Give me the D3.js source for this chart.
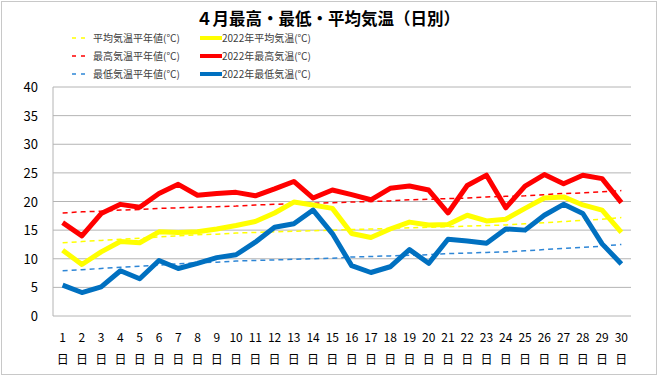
<!DOCTYPE html>
<html>
<head>
<meta charset="utf-8">
<script src="https://cdn.jsdelivr.net/npm/d3@7"></script>
<style>
  body { margin: 0; background: #fff; }
  text { font-family: "Noto Sans CJK JP", "Noto Sans", sans-serif; }
</style>
</head>
<body>
<div id="chart"></div>
<script>
// Data
const days = d3.range(1, 31)
const yTicks = [0, 5, 10, 15, 20, 25, 30, 35, 40]

const maxNormal = [18.0, 18.2, 18.3, 18.5, 18.6, 18.8, 18.9, 19.0, 19.1, 19.2, 19.4, 19.5, 19.6, 19.7, 19.8,
  19.9, 20.0, 20.1, 20.3, 20.4, 20.5, 20.6, 20.8, 20.9, 21.0, 21.2, 21.4, 21.5, 21.7, 21.9]
const avgNormal = [12.8, 13.0, 13.2, 13.4, 13.6, 13.8, 14.0, 14.2, 14.3, 14.5, 14.6, 14.7, 14.8, 14.9, 15.0,
  15.1, 15.2, 15.3, 15.4, 15.5, 15.6, 15.7, 15.8, 15.9, 16.1, 16.3, 16.5, 16.7, 16.9, 17.2]
const minNormal = [7.9, 8.1, 8.3, 8.5, 8.7, 8.9, 9.1, 9.3, 9.4, 9.6, 9.7, 9.8, 9.9, 10.0, 10.1,
  10.3, 10.4, 10.5, 10.6, 10.7, 10.9, 11.0, 11.1, 11.2, 11.4, 11.6, 11.8, 12.0, 12.2, 12.5]

const max2022 = [16.3, 14.0, 17.9, 19.5, 19.0, 21.4, 23.0, 21.1, 21.4, 21.6, 21.0, 22.2, 23.5, 20.6, 22.0,
  21.2, 20.3, 22.3, 22.7, 22.0, 18.0, 22.8, 24.6, 18.9, 22.7, 24.7, 23.1, 24.6, 24.0, 19.8]
const avg2022 = [11.5, 9.0, 11.2, 13.0, 12.8, 14.7, 14.6, 14.7, 15.2, 15.8, 16.5, 18.0, 19.9, 19.4, 18.8,
  14.4, 13.7, 15.2, 16.4, 15.9, 16.0, 17.6, 16.6, 16.9, 18.8, 20.6, 20.8, 19.4, 18.5, 14.6]
const min2022 = [5.4, 4.1, 5.1, 7.9, 6.5, 9.7, 8.3, 9.2, 10.2, 10.7, 12.9, 15.5, 16.1, 18.5, 14.4,
  8.8, 7.6, 8.6, 11.6, 9.2, 13.4, 13.1, 12.7, 15.2, 15.0, 17.6, 19.5, 17.9, 12.6, 9.1]

const series = [
  { name: '平均気温平年値(℃)', values: avgNormal, color: '#ffff00', width: 1.5, dash: '5,4' },
  { name: '最高気温平年値(℃)', values: maxNormal, color: '#ff0000', width: 1.5, dash: '5,4' },
  { name: '最低気温平年値(℃)', values: minNormal, color: '#2e86d6', width: 1.5, dash: '5,4' },
  { name: '2022年平均気温(℃)', values: avg2022, color: '#ffff00', width: 5, dash: null },
  { name: '2022年最高気温(℃)', values: max2022, color: '#ff0000', width: 5, dash: null },
  { name: '2022年最低気温(℃)', values: min2022, color: '#0070c0', width: 5, dash: null },
]

// Dimensions
const width = 660
const height = 376
const plot = { left: 53, right: 631, top: 87, bottom: 316 }

const svg = d3.select('#chart')
  .append('svg')
  .attr('width', width)
  .attr('height', height)

// Outer frame
svg.append('rect')
  .attr('x', 1.5).attr('y', 1.5)
  .attr('width', width - 5).attr('height', height - 3)
  .attr('fill', '#fff')
  .attr('stroke', '#c8c8c8')

// Scales
const x = d3.scaleBand()
  .domain(days)
  .range([plot.left, plot.right])

const y = d3.scaleLinear()
  .domain([0, 40])
  .range([plot.bottom, plot.top])

// Grid
svg.append('g')
  .selectAll('line')
  .data(yTicks)
  .join('line')
  .attr('x1', plot.left)
  .attr('x2', plot.right)
  .attr('y1', d => y(d))
  .attr('y2', d => y(d))
  .attr('stroke', '#b4b4b4')
  .attr('stroke-width', 1)

svg.append('line')
  .attr('x1', plot.left).attr('x2', plot.left)
  .attr('y1', plot.top).attr('y2', plot.bottom)
  .attr('stroke', '#b4b4b4')

// Y labels
svg.append('g')
  .selectAll('text')
  .data(yTicks)
  .join('text')
  .attr('x', 38)
  .attr('y', d => y(d) + 5)
  .attr('text-anchor', 'end')
  .attr('font-size', 13)
  .attr('fill', '#000')
  .text(d => d)

// X labels
const xLabels = svg.append('g')
  .selectAll('g')
  .data(days)
  .join('g')
  .attr('transform', d => `translate(${x(d) + x.bandwidth() / 2}, 0)`)

xLabels.append('text')
  .attr('y', 342)
  .attr('text-anchor', 'middle')
  .attr('font-size', 12)
  .text(d => d)

xLabels.append('text')
  .attr('y', 364)
  .attr('text-anchor', 'middle')
  .attr('font-size', 12)
  .text('日')

// Lines
const line = d3.line()
  .x((d, i) => x(days[i]) + x.bandwidth() / 2)
  .y(d => y(d))

svg.append('g')
  .selectAll('path')
  .data(series)
  .join('path')
  .attr('d', d => line(d.values))
  .attr('fill', 'none')
  .attr('stroke', d => d.color)
  .attr('stroke-width', d => d.width)
  .attr('stroke-dasharray', d => d.dash)
  .attr('stroke-linejoin', 'round')

// Title
svg.append('text')
  .attr('x', 328)
  .attr('y', 24.5)
  .attr('text-anchor', 'middle')
  .attr('font-size', 16.5)
  .attr('font-weight', 'bold')
  .text('４月最高・最低・平均気温（日別）')

// Legend
const legend = svg.append('g')
  .selectAll('g')
  .data(series)
  .join('g')
  .attr('transform', (d, i) => `translate(${i < 3 ? 72 : 200}, ${38 + (i % 3) * 18})`)

legend.append('line')
  .attr('x1', 0)
  .attr('x2', d => d.dash ? 15 : 22)
  .attr('stroke', d => d.color)
  .attr('stroke-width', d => d.dash ? 1.5 : 4)
  .attr('stroke-dasharray', d => d.dash ? '4,5' : null)

legend.append('text')
  .attr('x', d => d.dash ? 21 : 22)
  .attr('y', 4)
  .attr('font-size', 10)
  .attr('fill', '#404040')
  .text(d => d.name)
</script>
</body>
</html>
